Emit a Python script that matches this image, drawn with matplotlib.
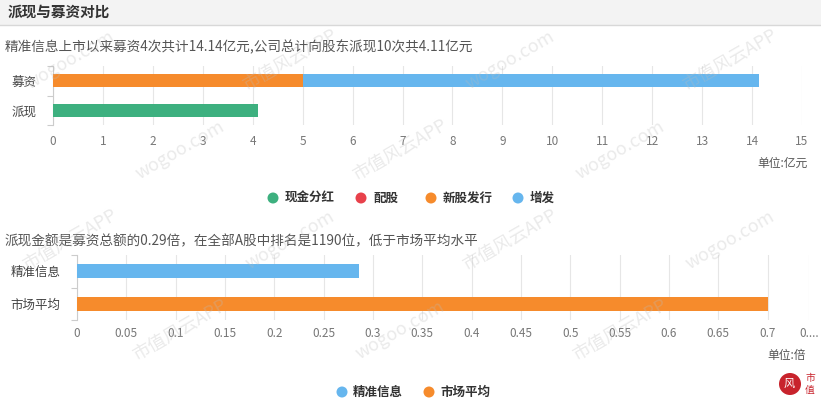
import matplotlib
matplotlib.use("Agg")
import matplotlib.pyplot as plt
from matplotlib.patches import Rectangle, Ellipse
import numpy as np

plt.rcParams['font.family'] = ['Noto Sans CJK SC', 'DejaVu Sans']

# ---------------- data ----------------
title_main = "派现与募资对比"
subtitle1 = "精准信息上市以来募资4次共计14.14亿元,公司总计向股东派现10次共4.11亿元"
cats1 = ["募资", "派现"]
series1_names = ["现金分红", "配股", "新股发行", "增发"]
series1_vals = {
    "现金分红": [0.0, 4.11],
    "配股": [0.0, 0.0],
    "新股发行": [5.0, 0.0],
    "增发": [9.14, 0.0],
}
ticks1 = list(range(0, 16))
unit1 = "单位:亿元"

subtitle2 = "派现金额是募资总额的0.29倍，在全部A股中排名是1190位，低于市场平均水平"
cats2 = ["精准信息", "市场平均"]
vals2 = [0.286, 0.70]
ticks2 = [0, 0.05, 0.1, 0.15, 0.2, 0.25, 0.3, 0.35, 0.4, 0.45, 0.5, 0.55, 0.6, 0.65, 0.7]
tick_labels2 = ["0", "0.05", "0.1", "0.15", "0.2", "0.25", "0.3", "0.35", "0.4", "0.45",
                "0.5", "0.55", "0.6", "0.65", "0.7"]
xmax2 = 0.742
unit2 = "单位:倍"

colors1 = {"现金分红": "#3db07f", "配股": "#e8414b", "新股发行": "#f68b2c", "增发": "#66b6ee"}
colors2 = ["#66b6ee", "#f68b2c"]

W, H = 821, 408
fig = plt.figure(figsize=(W / 100, H / 100), dpi=100)
fig.patch.set_facecolor("white")

def fx(px):
    return px / W

def fy(py):
    return 1 - py / H

def dot(x, y, r, color):
    fig.add_artist(Ellipse((fx(x), fy(y)), 2 * r / W, 2 * r / H, transform=fig.transFigure,
                           facecolor=color, edgecolor="none"))

# header band
fig.add_artist(Rectangle((0, fy(25)), 1, 25 / H, transform=fig.transFigure,
                         facecolor="#f3f3f3", edgecolor="none", zorder=0))
fig.add_artist(plt.Line2D([0, 1], [fy(25), fy(25)], transform=fig.transFigure,
                          color="#d8d8d8", lw=1))
fig.text(fx(8), fy(12), title_main, fontsize=10.5, fontweight="bold", color="#333333",
         va="center", ha="left")

grey_txt = "#555555"
tick_col = "#777777"
grid_col = "#e6e6e6"

def style_axes(ax, cats, ypad):
    for s in ["top", "right", "bottom"]:
        ax.spines[s].set_visible(False)
    ax.spines["left"].set_color("#cccccc")
    ax.spines["left"].set_linewidth(0.8)
    ax.grid(axis="x", color=grid_col, lw=0.8)
    ax.set_axisbelow(True)
    ax.tick_params(axis="x", length=0, labelsize=8.5, labelcolor=tick_col, pad=ypad)
    ax.set_yticks([-0.5, 0.5, 1.5], minor=True)
    ax.tick_params(axis="y", which="minor", length=4, color="#cccccc", width=0.8)
    ax.set_yticks(range(len(cats)))
    ax.set_yticklabels(cats)
    ax.tick_params(axis="y", which="major", length=0, labelsize=9, labelcolor="#444444", pad=12)
    ax.set_ylim(len(cats) - 0.5, -0.5)

# ---------------- chart 1 ----------------
fig.text(fx(5), fy(47), subtitle1, fontsize=9.8, color=grey_txt, va="center", ha="left")
ax1 = fig.add_axes([fx(53), fy(125), fx(802) - fx(53), (125 - 66) / H])
left = np.zeros(len(cats1))
for name in series1_names:
    v = np.array(series1_vals[name])
    ax1.barh(range(len(cats1)), v, left=left, height=0.45, color=colors1[name], zorder=3)
    left += v
ax1.set_xlim(0, 15)
ax1.set_xticks(ticks1)
ax1.set_xticklabels([str(t) for t in ticks1])
style_axes(ax1, cats1, 7)
fig.text(fx(808), fy(163), unit1, fontsize=8.5, color="#555555", ha="right", va="center")

leg_y1 = 198
leg_x1 = [273, 361, 431, 518]
for name, x in zip(series1_names, leg_x1):
    dot(x, leg_y1, 5.5, colors1[name])
    fig.text(fx(x + 12), fy(leg_y1), name, fontsize=9, fontweight="bold", color="#333333",
             va="center", ha="left")

# ---------------- chart 2 ----------------
fig.text(fx(5), fy(241), subtitle2, fontsize=9.8, color=grey_txt, va="center", ha="left")
ax2 = fig.add_axes([fx(77), fy(320), fx(809) - fx(77), (320 - 255) / H])
ax2.barh(range(len(cats2)), vals2, height=0.42, color=colors2, zorder=3)
ax2.set_xlim(0, xmax2)
ax2.set_xticks(ticks2 + [xmax2])
ax2.set_xticklabels(tick_labels2 + ["0...."])
style_axes(ax2, cats2, 5)
fig.text(fx(806), fy(356), unit2, fontsize=8.5, color="#555555", ha="right", va="center")

leg_y2 = 392
for name, c, x in zip(cats2, colors2, [342, 429]):
    dot(x, leg_y2, 5.5, c)
    fig.text(fx(x + 11), fy(leg_y2), name, fontsize=9, fontweight="bold", color="#333333",
             va="center", ha="left")

# logo
dot(790, 384, 11, "#c8232c")
fig.text(fx(789), fy(384), "风", fontsize=8, color="white", ha="center", va="center")
fig.text(fx(810), fy(378), "市", fontsize=7, color="#c8232c", ha="center", va="center")
fig.text(fx(810), fy(390), "值", fontsize=7, color="#c8232c", ha="center", va="center")

# watermark (kept inside the figure)
wm = ["wogoo.com", "市值风云APP"]
k = 0
for row, yy in enumerate([60, 150, 240, 330]):
    for xx in range(70 + (row % 2) * 110, 760, 220):
        fig.text(fx(xx), fy(yy), wm[k % 2], fontsize=13, color="#bbbbbb", alpha=0.3,
                 rotation=30, ha="center", va="center", zorder=10)
        k += 1

fig.savefig("out.png", dpi=100)
